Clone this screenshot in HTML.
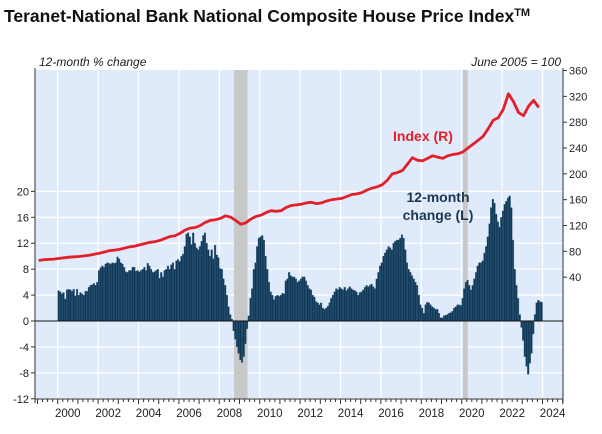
<!DOCTYPE html>
<html><head><meta charset="utf-8"><style>
body{margin:0;background:#fff;width:602px;height:429px;overflow:hidden;font-family:"Liberation Sans",sans-serif}
</style></head><body>
<svg id="chart" width="602" height="429" xmlns="http://www.w3.org/2000/svg" font-family="Liberation Sans, sans-serif">
<text x="4" y="22" font-size="17.5" font-weight="bold" fill="#111">Teranet-National Bank National Composite House Price Index<tspan font-size="11" dy="-6">TM</tspan></text>
<text x="39" y="66" font-size="12" font-style="italic" fill="#222">12-month % change</text>
<text x="561" y="66" font-size="12" font-style="italic" fill="#222" text-anchor="end">June 2005 = 100</text>
<rect x="35" y="70" width="528" height="329" fill="#dfeafb"/>
<g id="grid"></g><g id="rec"></g><g id="bars"></g><g id="line"></g><g id="axes"></g>
<text x="423" y="141" font-size="14" font-weight="bold" fill="#e0202a" text-anchor="middle">Index (R)</text>
<text x="438" y="202" font-size="14" font-weight="bold" fill="#1c3550" text-anchor="middle">12-month</text>
<text x="438" y="220" font-size="14" font-weight="bold" fill="#1c3550" text-anchor="middle">change (L)</text>
</svg>
<script>
const changeStartYear = 2000;
const changeValues = [
4.7,4.5,4.2,4.4,3.4,4.8,4.9,4.8,4.6,4.9,3.9,4.9,
4.0,4.4,4.2,4.0,4.6,4.6,5.2,5.5,5.6,5.8,5.5,6.0,
7.8,8.2,8.5,8.3,8.8,9.0,8.9,8.8,9.0,8.9,9.0,9.9,
9.6,9.0,8.8,8.3,7.6,7.5,7.8,7.8,8.3,8.3,7.7,7.8,
7.6,7.8,8.0,8.3,7.8,8.9,8.5,8.0,7.5,7.6,7.8,8.0,
6.6,7.5,6.8,7.8,8.0,8.5,8.0,8.7,9.0,8.0,9.3,9.5,
9.2,10.0,10.3,11.5,13.4,13.6,13.0,11.8,13.6,12.0,11.3,11.0,
11.5,12.3,13.2,13.6,12.0,11.0,10.0,11.0,9.6,11.7,10.2,9.8,
8.1,8.0,6.5,5.5,4.0,2.2,1.0,0.3,-1.5,-2.8,-4.0,-5.0,
-6.0,-6.4,-5.5,-3.5,-1.2,0.8,3.5,5.0,8.0,9.0,11.5,12.8,
13.0,13.2,12.5,10.0,8.0,6.0,4.5,4.0,3.3,3.8,4.0,3.8,
4.0,4.3,4.2,6.2,6.5,7.5,7.0,6.8,6.8,6.5,6.0,6.2,
6.5,6.8,6.8,6.2,5.5,5.0,4.8,4.0,3.7,3.0,2.8,2.5,
2.8,2.0,1.8,2.0,2.3,2.8,3.5,4.0,4.5,5.0,4.8,5.2,
5.0,4.8,5.2,4.7,5.0,5.3,5.0,4.8,4.7,4.5,4.0,4.4,
4.5,4.8,5.2,5.5,5.3,5.5,5.7,5.3,5.0,6.5,7.5,8.5,
9.0,10.0,10.5,11.0,11.5,11.3,11.0,12.0,12.3,12.5,12.5,12.8,
13.3,12.8,11.0,9.0,8.0,7.5,7.0,6.5,6.0,5.5,4.0,2.5,
2.0,1.2,2.5,2.9,2.8,2.5,2.2,2.0,1.8,1.8,1.2,0.5,
0.5,0.8,0.9,1.0,1.2,1.3,1.5,2.0,2.2,2.5,2.5,2.4,
3.5,5.0,6.0,6.3,5.5,4.8,5.5,6.5,7.5,8.5,9.0,9.0,
9.3,10.5,11.5,13.0,15.0,17.5,18.8,18.2,16.5,15.3,14.5,16.0,
17.0,18.0,18.5,19.0,19.3,17.5,12.5,8.0,5.5,3.5,1.0,-1.0,
-3.0,-5.5,-7.0,-8.2,-6.5,-5.0,-2.0,1.0,2.8,3.2,3.0,2.9];
const indexStartYear = 1999;
const indexValues = [
66,67,67.5,68, 69,70,71,71.5, 72,73,74,75.5, 77,79,81,82, 83,85,87,88,
90,92,94,95, 97,100,103,104, 108,113,116,117, 120,125,128,129, 131,135,133,128,
122,124,130,134, 136,140,143,142, 143,148,151,152, 153,155,156,154, 155,158,160,161,
162,165,168,169, 171,175,178,180, 183,190,200,202, 205,215,225,221, 220,224,228,226,
224,228,230,231, 234,240,246,252, 258,270,283,287, 300,324,312,295, 290,305,314,303];
const leftTicks = [-12,-8,-4,0,4,8,12,16,20];
const rightTicks = [40,80,120,160,200,240,280,320,360];
const yearLabels = [2000,2002,2004,2006,2008,2010,2012,2014,2016,2018,2020,2022,2024];
const recessions = [[2008.73,2009.4],[2020.05,2020.3]];

const NS="http://www.w3.org/2000/svg";
const X0=35,X1=563,YT=70,YB=399;
const xS=y=>57.7+(y-2000)*20.2;
const yL=v=>321-v*6.48;
const yR=v=>303-v*0.6457;
function mk(t,a,p){const e=document.createElementNS(NS,t);for(const k in a)e.setAttribute(k,a[k]);document.getElementById(p).appendChild(e);return e;}

// grid
for(const t of leftTicks){if(t===0)continue;
 const g=mk('line',{x1:X0,x2:X1,y1:yL(t),y2:yL(t),stroke:'#fff','stroke-width':1.3},'grid');
 
 }
for(const y of yearLabels){const x=xS(y);if(x>=X1)continue;
 const g=mk('line',{x1:x,x2:x,y1:YT,y2:YB,stroke:'#fff','stroke-width':1.3},'grid');
 
 }
for(const r of recessions){
 const e=mk('rect',{x:xS(r[0]),y:YT,width:xS(r[1])-xS(r[0]),height:YB-YT,fill:'#c8c8c8'},'rec');
 
 }
// bars
const bw=20.2/12;
changeValues.forEach((v,i)=>{
 const yr=changeStartYear+i/12;const x=xS(yr);
 const y0=yL(0),y1=yL(v);
 const b=mk('rect',{x:x,y:Math.min(y0,y1),width:bw,height:Math.abs(y1-y0),fill:'#0f3856',stroke:'#3a6283','stroke-width':0.3},'bars');
 
 
});
const zl=mk('line',{x1:X0,x2:X1,y1:yL(0),y2:yL(0),stroke:'#111','stroke-width':1},'bars');


// index line
const pts=indexValues.map((v,i)=>xS(indexStartYear+i/4+0.06).toFixed(1)+','+yR(v).toFixed(1)).join(' ');
const pl=mk('polyline',{points:pts,fill:'none',stroke:'#e3202a','stroke-width':2.8,'stroke-linejoin':'round'},'line');


// axes
const la=mk('line',{x1:X0,x2:X0,y1:YT-2,y2:YB+4,stroke:'#333','stroke-width':1},'axes');


const ra=mk('line',{x1:X1,x2:X1,y1:YT-2,y2:YB+4,stroke:'#333','stroke-width':1},'axes');


const ba=mk('line',{x1:X0,x2:X1,y1:YB,y2:YB,stroke:'#333','stroke-width':1},'axes');


for(const t of leftTicks){
 const tk=mk('line',{x1:X0-4,x2:X0,y1:yL(t),y2:yL(t),stroke:'#333'},'axes');
 
 
 const tx=mk('text',{x:X0-6,y:yL(t)+4,'font-size':11,'text-anchor':'end',fill:'#222'},'axes');
 tx.textContent=t;
 
 }
for(const t of rightTicks){
 const tk=mk('line',{x1:X1,x2:X1+4,y1:yR(t),y2:yR(t),stroke:'#333'},'axes');
 
 
 const tx=mk('text',{x:X1+6,y:yR(t)+4,'font-size':11,fill:'#222'},'axes');
 tx.textContent=t;
 
 }
for(let q=1999;q<=2025.001;q+=0.25){
 const major=Math.abs(q-Math.round(q))<0.01;
 const tk=mk('line',{x1:xS(q),x2:xS(q),y1:YB,y2:YB+(major?5:3),stroke:'#333'},'axes');
 
 }
for(const y of yearLabels){
 const tx=mk('text',{x:xS(y+0.5),y:417,'font-size':11.5,'text-anchor':'middle',fill:'#222'},'axes');
 tx.textContent=y;
 
 }
</script>
</body></html>
